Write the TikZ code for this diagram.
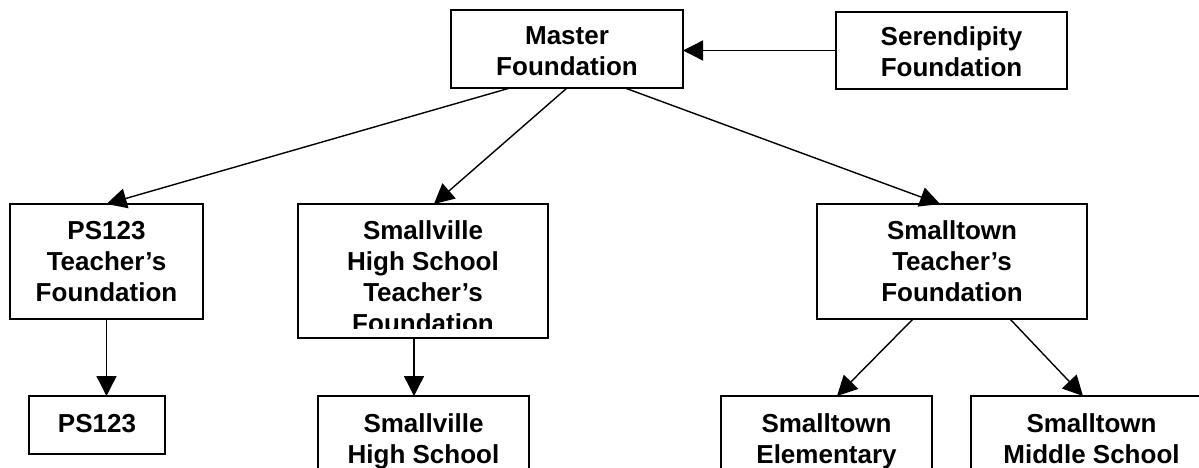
\documentclass[tikz,border=0pt]{standalone}
\usepackage{fontspec}
\setmainfont{Liberation Sans}
\usetikzlibrary{arrows.meta}
\begin{document}
\begin{tikzpicture}[x=1pt,y=-1pt,
  box/.style={draw, line width=1.6pt, inner sep=0pt, outer sep=0pt, rectangle},
  lbl/.style={anchor=base, inner sep=0pt, outer sep=0pt, font=\fontsize{26}{31}\selectfont\bfseries},
  arr/.style={line width=1.4pt, -{Triangle[length=20pt,width=20pt]}}]
\useasboundingbox (0,0) rectangle (1199,468);
\fill[white] (0,0) rectangle (1199,468);
\clip (0,0) rectangle (1199,468);

% boxes
\node[box, minimum width=232pt, minimum height=78pt]  (master) at (567,49) {};
\node[box, minimum width=231pt, minimum height=77pt]  (seren)  at (951.5,50.5) {};
\node[box, minimum width=193pt, minimum height=115pt] (ps123t) at (106.5,261.5) {};
\node[box, minimum width=250pt, minimum height=134pt] (svhstf) at (423,271) {};
\node[box, minimum width=270pt, minimum height=115pt] (sttf)   at (952,261.5) {};
\node[box, minimum width=136pt, minimum height=58pt]  (ps123)  at (97,425) {};
\node[box, minimum width=211pt, minimum height=90pt]  (svhs)   at (423.5,441) {};
\node[box, minimum width=211pt, minimum height=90pt]  (stel)   at (826.5,441) {};
\node[box, minimum width=241pt, minimum height=90pt]  (stms)   at (1091.5,441) {};

% labels
\node[lbl] (tmaster) at (567,45) {\begin{tabular}[t]{@{}c@{}}Master\\Foundation\end{tabular}};
\node[lbl] (tseren) at (951.5,46) {\begin{tabular}[t]{@{}c@{}}Serendipity\\Foundation\end{tabular}};
\node[lbl] (tps123t) at (106.5,239) {\begin{tabular}[t]{@{}c@{}}PS123\\Teacher’s\\Foundation\end{tabular}};
\begin{scope}
\clip (298,204) rectangle (548,328);
\node[lbl] (tsvhstf) at (423,239) {\begin{tabular}[t]{@{}c@{}}Smallville\\High School\\Teacher’s\\Foundation\end{tabular}};
\end{scope}
\node[lbl] (tsttf) at (952,239) {\begin{tabular}[t]{@{}c@{}}Smalltown\\Teacher’s\\Foundation\end{tabular}};
\node[lbl] (tps123) at (97,432) {PS123};
\node[lbl] (tsvhs) at (423.5,432) {\begin{tabular}[t]{@{}c@{}}Smallville\\High School\end{tabular}};
\node[lbl] (tstel) at (826.5,432) {\begin{tabular}[t]{@{}c@{}}Smalltown\\Elementary\end{tabular}};
\node[lbl] (tstms) at (1091.5,432) {\begin{tabular}[t]{@{}c@{}}Smalltown\\Middle School\end{tabular}};

% connectors
\draw[arr] (seren.west) -- (seren.west -| master.east);
\draw[arr] ([xshift=-57pt]master.south) -- (ps123t.north);
\draw[arr] (master.south) -- ([xshift=11pt]svhstf.north);
\draw[arr] ([xshift=58pt]master.south) -- ([xshift=-12pt]sttf.north);
\draw[arr] (ps123t.south) -- (ps123t.south |- ps123.north);
\draw[arr] ([xshift=-9pt]svhstf.south) -- ([xshift=-9pt]svhstf.south |- svhs.north);
\draw[arr] ([xshift=-39pt]sttf.south) -- ([xshift=10.5pt]stel.north);
\draw[arr] ([xshift=58pt]sttf.south) -- ([xshift=-8.5pt]stms.north);
\end{tikzpicture}
\end{document}
